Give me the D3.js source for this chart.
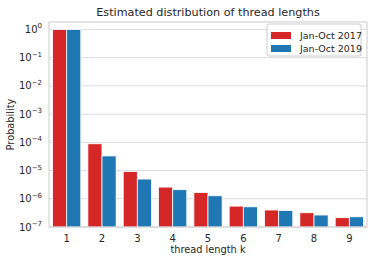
<!DOCTYPE html>
<html>
<head>
<meta charset="utf-8">
<script src="https://cdn.jsdelivr.net/npm/d3@7"></script>
<style>
  body { margin: 0; background: #fff; }
  text { font-family: 'DejaVu Sans', sans-serif; fill: #262626; }
</style>
</head>
<body>
<svg id="chart"></svg>
<script>
const categories = ['1', '2', '3', '4', '5', '6', '7', '8', '9'];
const seriesNames = ['Jan-Oct 2017', 'Jan-Oct 2019'];
const values2017 = [1.0, 8.9e-5, 9.3e-6, 2.6e-6, 1.68e-6, 5.5e-7, 4.0e-7, 3.2e-7, 2.14e-7];
const values2019 = [1.0, 3.3e-5, 5.0e-6, 2.1e-6, 1.28e-6, 5.2e-7, 3.85e-7, 2.66e-7, 2.3e-7];
const yTicks = [1, 1e-1, 1e-2, 1e-3, 1e-4, 1e-5, 1e-6, 1e-7];
const colors = ['#d62728', '#1f77b4'];

const width = 374, height = 263;
const margin = {top: 22, right: 7, bottom: 36, left: 49};

const svg = d3.select('#chart')
    .attr('width', width)
    .attr('height', height);

const x = d3.scaleBand()
    .domain(categories)
    .range([margin.left, width - margin.right])
    .paddingInner(0)
    .paddingOuter(0);

const y = d3.scaleLog()
    .domain([1e-7, Math.pow(10, 0.265)])
    .range([height - margin.bottom, margin.top]);

const sub = d3.scaleBand()
    .domain(seriesNames)
    .range([x.bandwidth() * 0.1, x.bandwidth() * 0.9]);

// grid
svg.append('g')
  .selectAll('line')
  .data(yTicks)
  .join('line')
    .attr('x1', margin.left)
    .attr('x2', width - margin.right)
    .attr('y1', d => y(d))
    .attr('y2', d => y(d))
    .attr('stroke', '#dcdcdc')
    .attr('stroke-width', 1);

// bars
const rows = categories.map((c, i) => ({c, vals: [values2017[i], values2019[i]]}));
svg.append('g')
  .selectAll('g')
  .data(rows)
  .join('g')
    .attr('transform', d => `translate(${x(d.c)},0)`)
  .selectAll('rect')
  .data(d => d.vals.map((v, j) => ({v, j})))
  .join('rect')
    .attr('x', d => sub(seriesNames[d.j]))
    .attr('width', sub.bandwidth())
    .attr('y', d => y(d.v))
    .attr('height', d => y(1e-7) - y(d.v))
    .attr('fill', d => colors[d.j])
    .attr('stroke', '#fff')
    .attr('stroke-width', 0.8);

// frame
svg.append('rect')
    .attr('x', margin.left)
    .attr('y', margin.top)
    .attr('width', width - margin.left - margin.right)
    .attr('height', height - margin.top - margin.bottom)
    .attr('fill', 'none')
    .attr('stroke', '#cccccc')
    .attr('stroke-width', 1);

// y tick labels
const yl = svg.append('g')
  .selectAll('text')
  .data(yTicks)
  .join('text')
    .attr('x', 42)
    .attr('y', d => y(d) + 3.5)
    .attr('text-anchor', 'end')
    .style('font-size', '10px');
yl.append('tspan').text('10');
yl.append('tspan')
    .attr('dy', -4.5)
    .style('font-size', '7px')
    .text(d => { const e = Math.round(Math.log10(d)); return e < 0 ? '\u2212' + (-e) : '' + e; });

// x tick labels
svg.append('g')
  .selectAll('text')
  .data(categories)
  .join('text')
    .attr('x', d => x(d) + x.bandwidth() / 2)
    .attr('y', height - margin.bottom + 14.5)
    .attr('text-anchor', 'middle')
    .style('font-size', '10px')
    .text(d => d);

// axis titles
svg.append('text')
    .attr('x', (margin.left + width - margin.right) / 2)
    .attr('y', 253)
    .attr('text-anchor', 'middle')
    .style('font-size', '9.8px')
    .text('thread length k');

svg.append('text')
    .attr('transform', `translate(14,${(margin.top + height - margin.bottom) / 2}) rotate(-90)`)
    .attr('text-anchor', 'middle')
    .style('font-size', '9.8px')
    .text('Probability');

svg.append('text')
    .attr('x', (margin.left + width - margin.right) / 2)
    .attr('y', 16)
    .attr('text-anchor', 'middle')
    .style('font-size', '11.2px')
    .text('Estimated distribution of thread lengths');

// legend
const legend = svg.append('g').attr('transform', 'translate(267,24)');
legend.append('rect')
    .attr('width', 94)
    .attr('height', 32)
    .attr('rx', 2)
    .attr('fill', '#fff')
    .attr('fill-opacity', 0.8)
    .attr('stroke', '#cccccc');
const li = legend.selectAll('g.item')
  .data(seriesNames)
  .join('g')
    .attr('class', 'item')
    .attr('transform', (d, i) => `translate(4,${8 + i * 13})`);
li.append('rect')
    .attr('width', 20)
    .attr('height', 7)
    .attr('fill', (d, i) => colors[i]);
li.append('text')
    .attr('x', 29)
    .attr('y', 7)
    .style('font-size', '9.5px')
    .text(d => d);
</script>
</body>
</html>
